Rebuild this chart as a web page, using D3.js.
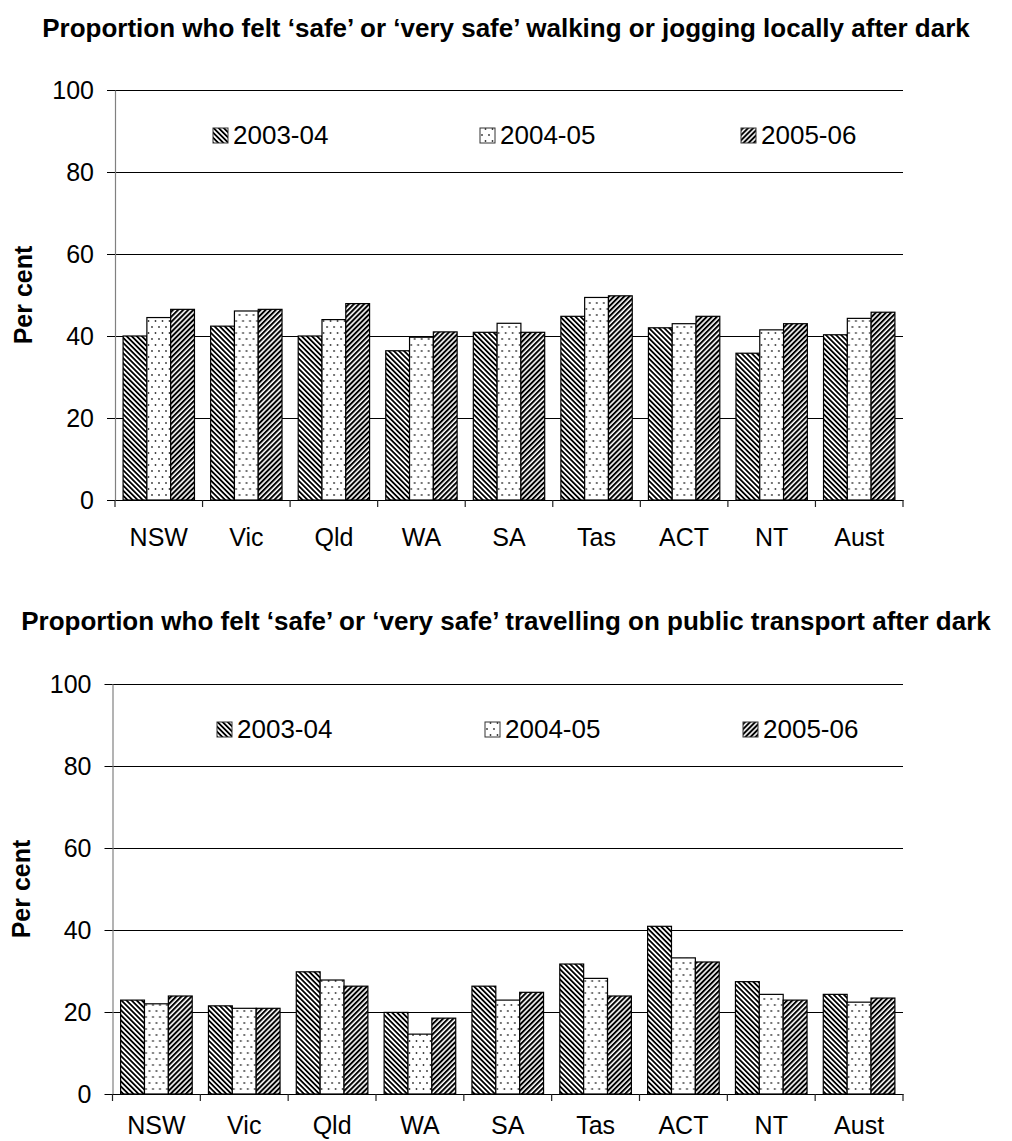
<!DOCTYPE html>
<html><head><meta charset="utf-8">
<script src="https://cdn.jsdelivr.net/npm/d3@7"></script>
<style>
html,body{margin:0;padding:0;background:#fff;}
svg{display:block;font-family:Arial,"Liberation Sans",sans-serif;}
</style></head>
<body>
<svg id="chart" width="1012" height="1141"></svg>
<script>
const categories = ["NSW","Vic","Qld","WA","SA","Tas","ACT","NT","Aust"];
const seriesNames = ["2003-04","2004-05","2005-06"];
const walking2003 = [40.0, 42.4, 40.0, 36.4, 40.9, 44.8, 42.0, 35.8, 40.3];
const walking2004 = [44.5, 46.1, 44.0, 39.7, 43.1, 49.4, 43.0, 41.5, 44.3];
const walking2005 = [46.5, 46.5, 47.9, 41.0, 40.9, 49.8, 44.8, 43.0, 45.8];
const transport2003 = [22.9, 21.5, 29.8, 19.9, 26.3, 31.7, 40.9, 27.4, 24.3];
const transport2004 = [22.0, 20.9, 27.8, 14.6, 22.9, 28.2, 33.2, 24.3, 22.4];
const transport2005 = [23.9, 20.9, 26.3, 18.5, 24.8, 23.9, 32.2, 22.9, 23.4];
const yTicks = [0, 20, 40, 60, 80, 100];
const titleWalking = "Proportion who felt \u2018safe\u2019 or \u2018very safe\u2019 walking or jogging locally after dark";
const titleTransport = "Proportion who felt \u2018safe\u2019 or \u2018very safe\u2019 travelling on public transport after dark";
const yAxisTitle = "Per cent";

const svg = d3.select("#chart");
const defs = svg.append("defs");

function stripePattern(id, angle, w) {
  const p = defs.append("pattern").attr("id", id)
    .attr("patternUnits", "userSpaceOnUse").attr("width", 3.6).attr("height", 3.6)
    .attr("patternTransform", `rotate(${angle})`);
  p.append("rect").attr("width", 3.6).attr("height", 3.6).attr("fill", "#fff");
  p.append("rect").attr("width", w).attr("height", 3.6).attr("fill", "#000");
}
stripePattern("pat0", -45, 1.8);
stripePattern("pat2", 45, 2.0);
const dp = defs.append("pattern").attr("id", "pat1")
  .attr("patternUnits", "userSpaceOnUse").attr("width", 7).attr("height", 12);
dp.append("rect").attr("width", 7).attr("height", 12).attr("fill", "#fff");
dp.append("circle").attr("cx", 2).attr("cy", 3).attr("r", 0.9).attr("fill", "#333");
dp.append("circle").attr("cx", 5.5).attr("cy", 9).attr("r", 0.9).attr("fill", "#333");
const patterns = ["url(#pat0)", "url(#pat1)", "url(#pat2)"];

function drawChart(cfg) {
  const g = svg.append("g");
  const x = d3.scaleBand().domain(categories).range([cfg.x0, cfg.x1]).paddingInner(0).paddingOuter(0);
  const xs = d3.scaleBand().domain(seriesNames).range([0, x.bandwidth()]).paddingInner(0).paddingOuter(0.34);
  const y = d3.scaleLinear().domain([0, 100]).range([cfg.y0, cfg.yTop]);

  // title
  g.append("text").attr("x", 506).attr("y", cfg.titleY).attr("text-anchor", "middle")
    .attr("font-size", 26).attr("font-weight", "bold").text(cfg.title);

  // gridlines
  g.append("g").selectAll("line").data(yTicks.filter(t => t > 0)).join("line")
    .attr("x1", cfg.x0).attr("x2", cfg.x1)
    .attr("y1", d => Math.round(y(d)) + 0.5).attr("y2", d => Math.round(y(d)) + 0.5)
    .attr("stroke", "#000").attr("stroke-width", 1);

  // bars
  const rows = categories.map((c, i) => ({ cat: c, vals: cfg.series.map(s => s[i]) }));
  g.append("g").selectAll("g").data(rows).join("g")
    .attr("transform", d => `translate(${x(d.cat)},0)`)
    .selectAll("rect").data(d => d.vals.map((v, k) => ({ v, k }))).join("rect")
    .attr("x", d => xs(seriesNames[d.k]))
    .attr("width", xs.bandwidth())
    .attr("y", d => y(d.v))
    .attr("height", d => y(0) - y(d.v))
    .attr("fill", d => patterns[d.k])
    .attr("stroke", "#000").attr("stroke-width", 1.2);

  // y axis
  const ya = g.append("g").attr("transform", `translate(${cfg.x0},0)`)
    .call(d3.axisLeft(y).tickValues(yTicks).tickSize(8).tickPadding(13).tickSizeOuter(0));
  ya.select(".domain").attr("stroke", "#808080").attr("stroke-width", 1.2);
  ya.selectAll(".tick line").attr("stroke", "#000");
  ya.selectAll(".tick text").attr("font-size", 25).attr("fill", "#000")
    .attr("font-family", "Arial, 'Liberation Sans', sans-serif");

  // x axis
  const xa = g.append("g").attr("transform", `translate(0,${cfg.y0})`)
    .call(d3.axisBottom(x).tickSize(0).tickPadding(cfg.xLabelPad).tickSizeOuter(0));
  xa.select(".domain").attr("stroke", "#000").attr("stroke-width", 1.2);
  xa.selectAll(".tick text").attr("font-size", 25).attr("fill", "#000")
    .attr("font-family", "Arial, 'Liberation Sans', sans-serif");
  const bounds = categories.map(c => x(c)).concat([x.range()[1]]);
  g.append("g").selectAll("line").data(bounds).join("line")
    .attr("x1", d => d).attr("x2", d => d)
    .attr("y1", cfg.y0).attr("y2", cfg.y0 + 7)
    .attr("stroke", "#222").attr("stroke-width", 1.2);

  // y axis title
  g.append("text").attr("transform", `translate(${cfg.yTitleX},${(cfg.y0 + cfg.yTop) / 2}) rotate(-90)`)
    .attr("text-anchor", "middle").attr("font-size", 25).attr("font-weight", "bold").text(yAxisTitle);

  // legend
  const lg = g.append("g").selectAll("g").data(seriesNames).join("g")
    .attr("transform", (d, i) => `translate(${cfg.legendX[i]},${cfg.legendY})`);
  lg.append("rect").attr("x", 0).attr("y", -16).attr("width", 15).attr("height", 15)
    .attr("fill", (d, i) => patterns[i]).attr("stroke", "#333").attr("stroke-width", 1);
  lg.append("text").attr("x", 20).attr("y", 0).attr("font-size", 26).text(d => d);
}

drawChart({
  title: titleWalking, titleY: 37,
  x0: 115, x1: 903, y0: 500, yTop: 90, xLabelPad: 28,
  yTitleX: 32, legendX: [213, 480, 741], legendY: 144,
  series: [walking2003, walking2004, walking2005]
});
drawChart({
  title: titleTransport, titleY: 630,
  x0: 112.5, x1: 903, y0: 1094, yTop: 684, xLabelPad: 22,
  yTitleX: 30, legendX: [217, 485, 743], legendY: 738,
  series: [transport2003, transport2004, transport2005]
});
</script>
</body></html>
